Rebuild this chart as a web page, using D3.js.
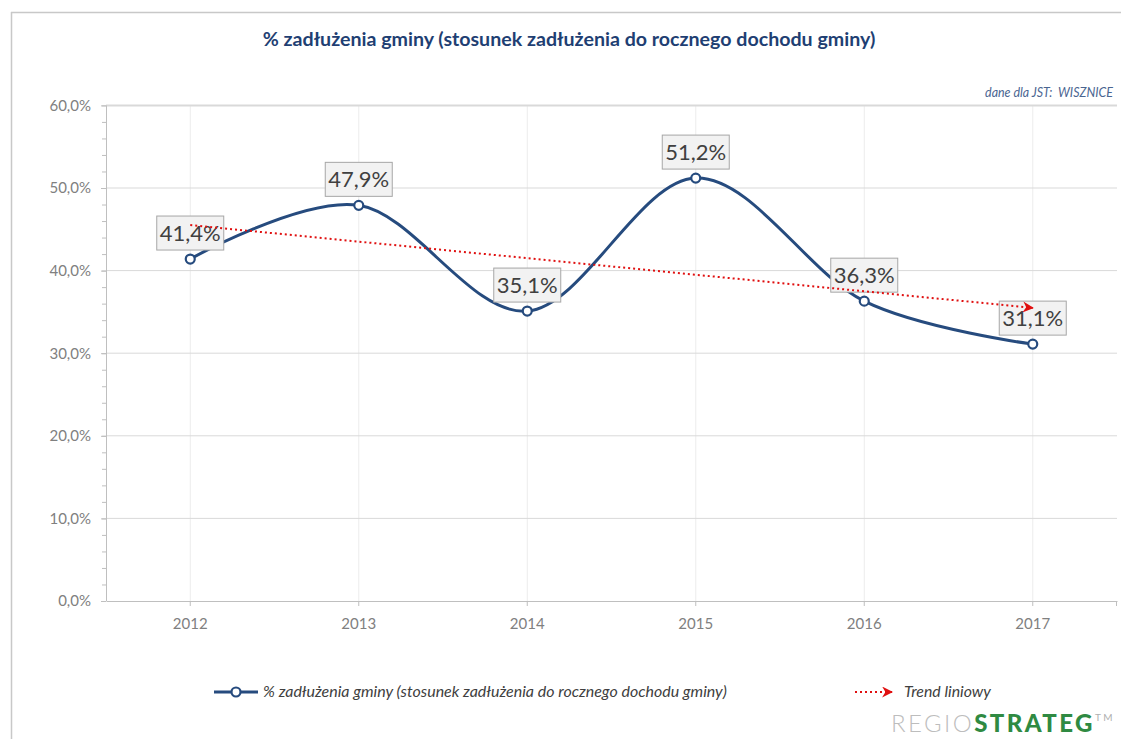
<!DOCTYPE html>
<html>
<head>
<meta charset="utf-8">
<script src="https://cdn.jsdelivr.net/npm/d3@7"></script>
<style>
  html, body { margin: 0; padding: 0; background: #fff; }
  svg { display: block; }
</style>
</head>
<body>
<svg id="chart" width="1121" height="739"></svg>
<script>
// Debt ratio of the municipality (debt / annual income), 2012-2017
const years = ['2012', '2013', '2014', '2015', '2016', '2017'];
const debtPct = [41.4, 47.9, 35.1, 51.2, 36.3, 31.1];
const yTicks = [0, 10, 20, 30, 40, 50, 60];
const minorTicks = d3.range(0, 60.001, 2);

const titleText = '% zadłużenia gminy (stosunek zadłużenia do rocznego dochodu gminy)';
const sourceText = 'dane dla JST:  WISZNICE';
const seriesName = '% zadłużenia gminy (stosunek zadłużenia do rocznego dochodu gminy)';
const trendName = 'Trend liniowy';

const BLUE = '#264b7e';
const RED = '#e01010';
const GRID = '#d9d9d9';
const AXIS = '#bfbfbf';
const LABEL_GRAY = '#808080';
const FONT = 'Lato, "Open Sans", sans-serif';

const svg = d3.select('#chart');
const plot = { left: 106, right: 1117, top: 105.4, bottom: 601 };

// fit a text element to a given width by scaling its font size
function fitWidth(sel, base, width) {
  const w = sel.node().getComputedTextLength();
  sel.attr('font-size', base * width / w);
}

// outer frame (top and left edges)
svg.append('line').attr('x1', 11).attr('x2', 1121).attr('y1', 12.5).attr('y2', 12.5)
  .attr('stroke', '#c8c8c8').attr('stroke-width', 1.5);
svg.append('line').attr('x1', 11.5).attr('x2', 11.5).attr('y1', 12).attr('y2', 739)
  .attr('stroke', '#c8c8c8').attr('stroke-width', 1.5);

// title
const title = svg.append('text')
  .attr('x', 569).attr('y', 46)
  .attr('text-anchor', 'middle')
  .attr('font-family', FONT).attr('font-weight', 'bold')
  .attr('font-size', 18).attr('fill', '#1f3f73')
  .text(titleText);
fitWidth(title, 18, 613);

const source = svg.append('text')
  .attr('x', 1113).attr('y', 97)
  .attr('text-anchor', 'end')
  .attr('font-family', FONT).attr('font-style', 'italic')
  .attr('font-size', 12).attr('fill', '#4a6591')
  .style('white-space', 'pre')
  .text(sourceText);
fitWidth(source, 12, 128);

// scales
const x = d3.scaleBand().domain(years).range([plot.left, plot.right]);
const cx = d => x(d) + x.bandwidth() / 2;
const y = d3.scaleLinear().domain([0, 60]).range([plot.bottom, plot.top]);

// vertical gridlines at categories
svg.append('g').selectAll('line').data(years).join('line')
  .attr('x1', d => cx(d)).attr('x2', d => cx(d))
  .attr('y1', plot.top).attr('y2', plot.bottom)
  .attr('stroke', '#ececec').attr('stroke-width', 1);

// horizontal gridlines
svg.append('g').selectAll('line').data(yTicks.filter(v => v > 0)).join('line')
  .attr('x1', plot.left).attr('x2', plot.right)
  .attr('y1', d => y(d)).attr('y2', d => y(d))
  .attr('stroke', GRID).attr('stroke-width', d => d === 60 ? 2 : 1);

// minor ticks on the value axis
const minorAxis = svg.append('g').attr('transform', `translate(${plot.left},0)`)
  .call(d3.axisLeft(y).tickValues(minorTicks).tickSize(4).tickFormat(''));
minorAxis.select('.domain').remove();
minorAxis.selectAll('line').attr('stroke', AXIS);

// value axis
const yAxis = svg.append('g').attr('transform', `translate(${plot.left},0)`)
  .call(d3.axisLeft(y).tickValues(yTicks).tickSize(5).tickPadding(10)
    .tickFormat(d => d.toFixed(1).replace('.', ',') + '%'));
yAxis.select('.domain').attr('stroke', AXIS).attr('d', `M0.5,${plot.top}V${plot.bottom}`);
yAxis.selectAll('line').attr('stroke', AXIS);
yAxis.selectAll('text')
  .attr('font-family', FONT).attr('font-size', 15).attr('fill', LABEL_GRAY);

// category axis
const xAxis = svg.append('g').attr('transform', `translate(0,${plot.bottom})`)
  .call(d3.axisBottom(x).tickSize(5).tickPadding(12).tickSizeOuter(0));
xAxis.select('.domain').attr('stroke', AXIS);
xAxis.selectAll('line').attr('stroke', AXIS);
xAxis.selectAll('text')
  .attr('font-family', FONT).attr('font-size', 15).attr('fill', LABEL_GRAY);
xAxis.append('line').attr('x1', plot.right - 0.5).attr('x2', plot.right - 0.5)
  .attr('y1', 0).attr('y2', 5).attr('stroke', AXIS);

// linear trend (least squares over category index)
const n = debtPct.length;
const idx = d3.range(1, n + 1);
const mx = d3.mean(idx), my = d3.mean(debtPct);
const slope = d3.sum(idx, (v, i) => (v - mx) * (debtPct[i] - my)) / d3.sum(idx, v => (v - mx) ** 2);
const intercept = my - slope * mx;
const trend = [years[0], years[n - 1]].map((yr, k) => ({ yr, v: intercept + slope * (k === 0 ? 1 : n) }));

const defs = svg.append('defs');
defs.append('marker').attr('id', 'arrow-red')
  .attr('viewBox', '0 0 10 10').attr('refX', 9).attr('refY', 5)
  .attr('markerWidth', 5.5).attr('markerHeight', 5.5).attr('markerUnits', 'strokeWidth')
  .attr('orient', 'auto')
  .append('path').attr('d', 'M0,0L10,5L0,10L3,5Z').attr('fill', RED);

// series line
const line = d3.line().x((d, i) => cx(years[i])).y(d => y(d)).curve(d3.curveCatmullRom.alpha(0));
svg.append('path').datum(debtPct)
  .attr('d', line).attr('fill', 'none')
  .attr('stroke', BLUE).attr('stroke-width', 3).attr('stroke-linecap', 'round');

// markers
svg.append('g').selectAll('circle').data(debtPct).join('circle')
  .attr('cx', (d, i) => cx(years[i])).attr('cy', d => y(d)).attr('r', 4.5)
  .attr('fill', '#fff').attr('stroke', BLUE).attr('stroke-width', 2.2);

// value labels in boxes
const lbl = svg.append('g').selectAll('g').data(debtPct).join('g')
  .attr('transform', (d, i) => `translate(${cx(years[i])},${y(d) - 26})`);
lbl.append('rect').attr('x', -33.5).attr('y', -17).attr('width', 67).attr('height', 34)
  .attr('fill', '#f2f2f2').attr('stroke', '#a6a6a6').attr('stroke-width', 1);
lbl.append('text').attr('text-anchor', 'middle').attr('dy', '0.36em')
  .attr('font-family', FONT).attr('font-size', 22).attr('fill', '#404040')
  .text(d => d.toFixed(1).replace('.', ',') + '%');

// trend line, drawn over the labels
svg.append('path').datum(trend)
  .attr('d', d3.line().x(d => cx(d.yr)).y(d => y(d.v)))
  .attr('fill', 'none').attr('stroke', RED).attr('stroke-width', 2)
  .attr('stroke-dasharray', '2,3').attr('marker-end', 'url(#arrow-red)');

// legend
const legY = 692;
svg.append('line').attr('x1', 214).attr('x2', 258).attr('y1', legY).attr('y2', legY)
  .attr('stroke', BLUE).attr('stroke-width', 3);
svg.append('circle').attr('cx', 236).attr('cy', legY).attr('r', 4.5)
  .attr('fill', '#fff').attr('stroke', BLUE).attr('stroke-width', 2.2);
const legText = svg.append('text').attr('x', 263).attr('y', legY + 4.5)
  .attr('font-family', FONT).attr('font-style', 'italic')
  .attr('font-size', 13).attr('fill', '#404040')
  .text(seriesName);
fitWidth(legText, 13, 464);
svg.append('line').attr('x1', 855).attr('x2', 892).attr('y1', legY).attr('y2', legY)
  .attr('stroke', RED).attr('stroke-width', 2).attr('stroke-dasharray', '2,3')
  .attr('marker-end', 'url(#arrow-red)');
const trendText = svg.append('text').attr('x', 904).attr('y', legY + 4.5)
  .attr('font-family', FONT).attr('font-style', 'italic')
  .attr('font-size', 13).attr('fill', '#404040')
  .text(trendName);
fitWidth(trendText, 13, 87);

// brand mark: fixed font size, spacing stretched to the full width
const logo = svg.append('text').attr('x', 891).attr('y', 732)
  .attr('font-family', FONT).attr('font-size', 24);
logo.append('tspan').attr('font-weight', 300).attr('fill', '#bdbdbd').text('REGIO');
logo.append('tspan').attr('font-weight', 900).attr('fill', '#2f8a42').text('STRATEG');
logo.append('tspan').attr('font-size', 10).attr('dy', -11).attr('fill', '#b0b0b0').text('TM');
{
  const w = logo.node().getComputedTextLength();
  logo.attr('letter-spacing', Math.max(0, (224 - w) / 14));
}
</script>
</body>
</html>
